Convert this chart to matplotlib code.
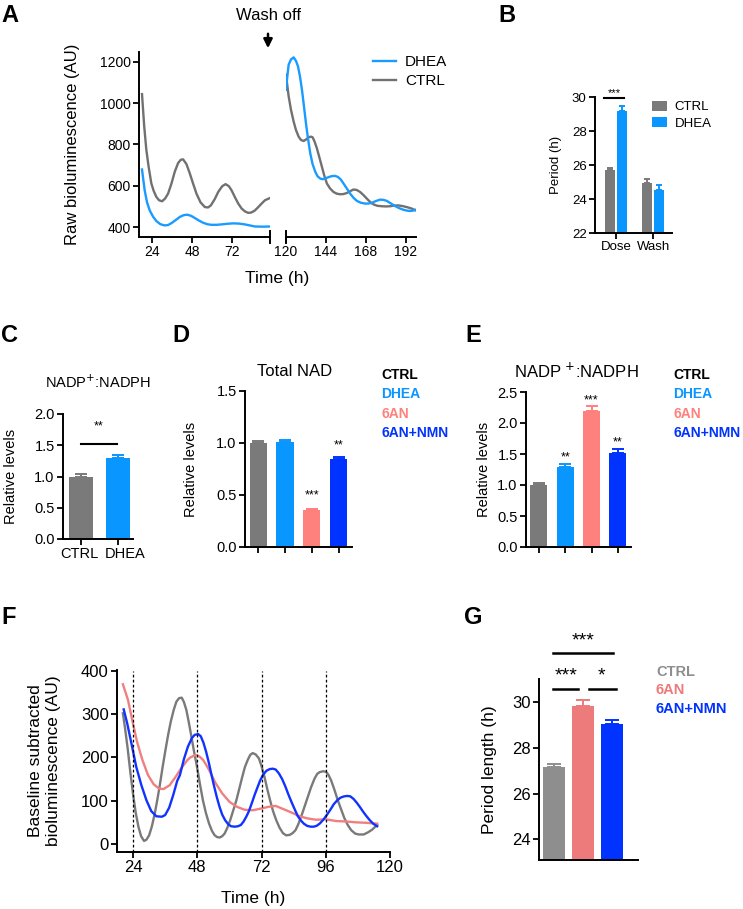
import matplotlib
matplotlib.use('Agg')
import matplotlib.pyplot as plt
import matplotlib.transforms as mtransforms
from matplotlib.patches import FancyArrowPatch
import numpy as np

plt.rcParams['font.family'] = ['Liberation Sans', 'DejaVu Sans']
plt.rcParams['axes.linewidth'] = 1.4
plt.rcParams['xtick.major.width'] = 1.3
plt.rcParams['ytick.major.width'] = 1.3
plt.rcParams['xtick.major.size'] = 4
plt.rcParams['ytick.major.size'] = 4

# ---------------- data ----------------
# Panel A (raw bioluminescence), dose phase
tA_dose_c = [18, 19.3, 20.6, 22, 23.6, 25, 26.6, 28.2, 30, 31.8, 33.6, 35.6, 37.6, 39.6, 41.2,
             42.6, 44.6, 46.6, 48.6, 50.6, 53, 55.6, 57.5, 59.2, 61.5, 63.6, 66, 68, 70, 71.6,
             73.6, 75.6, 77.6, 79.6, 81.5, 83.2, 85.5, 87.6, 89.6, 91.6, 94.6]
ctrlA_dose = [1044, 890, 773, 690, 611, 575, 546, 530, 525, 538, 562, 610, 668, 710, 726,
              728, 705, 660, 610, 562, 520, 497, 495, 505, 535, 570, 598, 608, 598, 578,
              545, 514, 490, 476, 469, 470, 480, 497, 514, 530, 541]
tA_dose_d = [18, 19.6, 21, 22.6, 24.5, 26.6, 29, 31.6, 33.6, 35.6, 38, 40.6, 43, 45.2, 47.5,
             49.6, 52, 54.6, 57, 59.6, 62.5, 65.6, 69, 72.6, 76, 79.6, 82.5, 85.6, 90, 94.6]
dheaA_dose = [679, 578, 520, 481, 452, 429, 414, 408, 410, 419, 433, 449, 458, 460, 454,
              444, 432, 421, 414, 411, 411, 413, 416, 418, 417, 413, 408, 403, 402, 403]
# Panel A, wash phase
tA_wash_d = [120, 120.8, 121.6, 123, 124.6, 126, 127.2, 128.4, 129.6, 130.8, 132, 133.3, 134.6,
             136, 137.6, 139, 140.6, 142, 143.6, 145.6, 147.6, 149.5, 151.2, 153, 154.6, 156.6,
             158.6, 160.6, 162.6, 165, 167.6, 169.5, 171.6, 174, 176.6, 178.6, 180.6, 183,
             185.6, 188, 190.6, 192.6, 194.6, 196.5, 198]
dheaA_wash = [1065, 1130, 1187, 1212, 1222, 1205, 1179, 1130, 1065, 985, 903, 825, 757,
              705, 668, 646, 635, 632, 635, 642, 647, 648, 643, 630, 611, 587,
              562, 542, 527, 518, 514, 514, 517, 526, 533, 532, 527, 515,
              502, 492, 484, 480, 478, 480, 484]
tA_wash_c = [120, 120.8, 121.6, 123, 124.6, 126, 127.6, 129, 130.6, 132, 133.6, 135, 136,
             137.3, 138.6, 140, 141.6, 143, 144.6, 146.5, 148.6, 150.5, 152.6, 154.6, 156.6,
             158.6, 160.6, 162.5, 164.6, 166.6, 168.6, 170.6, 172.6, 175, 177.6, 180, 182.6,
             185, 187.6, 190, 192.6, 195.5, 198]
ctrlA_wash = [1138, 1085, 1033, 968, 911, 870, 838, 822, 817, 824, 835, 838, 835,
              812, 781, 740, 692, 650, 611, 587, 570, 562, 559, 560, 565,
              574, 582, 580, 570, 555, 538, 522, 510, 503, 501, 500, 501,
              504, 505, 502, 497, 490, 481]

# Panel B (period)
B_groups = ['Dose', 'Wash']
B_ctrl = [25.7, 24.95]
B_ctrl_err = [0.12, 0.25]
B_dhea = [29.15, 24.55]
B_dhea_err = [0.3, 0.3]

# Panel C
C_labels = ['CTRL', 'DHEA']
C_vals = [1.0, 1.29]
C_err = [0.04, 0.05]

# Panels D, E
conds = ['CTRL', 'DHEA', '6AN', '6AN+NMN']
D_vals = [1.0, 1.01, 0.36, 0.845]
D_err = [0.02, 0.02, 0.01, 0.02]
D_stars = ['', '', '***', '**']
E_vals = [1.0, 1.29, 2.2, 1.52]
E_err = [0.04, 0.05, 0.08, 0.06]
E_stars = ['', '**', '***', '**']

# Panel F (baseline subtracted)
tF_ctrl = [20.2, 21, 22, 23, 24, 25, 26, 27, 28.1, 29, 30, 31, 32.1, 33, 34, 35, 36.1, 37.1,
           38.1, 39.2, 40.2, 41.2, 42.2, 43, 43.9, 44.8, 45.8, 46.8, 47.9, 49, 50.1, 51.2,
           52.4, 53.5, 54.5, 55.4, 56.4, 57.3, 58.2, 59.2, 60.3, 61.4, 62.6, 63.7, 64.8, 65.8,
           66.9, 67.8, 68.7, 69.8, 71, 72, 73.1, 74.1, 75.2, 76.3, 77.5, 78.7, 80, 81.2, 82.5,
           83.6, 84.7, 85.7, 86.8, 88, 89.3, 90.5, 91.8, 92.8, 93.7, 95, 96, 97, 98, 99.2,
           100.5, 101.8, 103, 104.2, 105.5, 107, 108.3, 110.2, 111.8, 113.3, 115.2]
F_ctrl = [302, 268, 220, 165, 115, 72, 40, 18, 7, 10, 20, 40, 70, 100, 136, 176, 217, 252,
          283, 310, 329, 337, 338, 328, 310, 282, 248, 213, 178, 138, 101, 72,
          47, 30, 20, 16, 15, 18, 24, 37, 55, 77, 101, 128, 155, 178,
          195, 206, 210, 207, 198, 180, 155, 128, 101, 76, 55, 38, 25, 20, 21,
          25, 32, 45, 63, 85, 109, 131, 151, 162, 166, 168, 167, 160, 147, 126,
          101, 79, 59, 44, 32, 24, 22, 22, 27, 33, 44]
tF_6an = [20.2, 22.1, 23.8, 25.5, 27.5, 29.6, 31.7, 33.7, 35.4, 37.7, 39.9, 42, 44.3, 45.4,
          46.4, 47.2, 48, 49, 50.2, 51.3, 52.4, 54.8, 57.3, 60.1, 62.8, 65.7, 68.8, 71.9,
          74.7, 77.3, 80, 83.1, 86.2, 89.3, 92.4, 96, 99.9, 103.6, 107.4, 111.1, 115.2]
F_6an = [369, 333, 283, 236, 194, 159, 138, 128, 127, 136, 155, 175, 194, 200,
         203, 205, 205, 201, 194, 183, 171, 141, 117, 97, 86, 79, 78, 82,
         86, 88, 81, 73, 64, 59, 56, 57, 53, 52, 50, 49, 47]
tF_nmn = [20.5, 21.8, 23.4, 25.2, 27.1, 29, 30.8, 32.7, 34.8, 36, 37.5, 39, 40.5, 41.5, 43,
          44.5, 46, 47, 48.3, 49.3, 50.3, 51.3, 52.3, 53.3, 54.3, 55.3, 56.3, 57.3, 58.4, 59.5,
          60.6, 62, 63.2, 64.3, 65.3, 66.3, 67.3, 68.4, 69.4, 70.5, 71.5, 72.6, 73.8, 75, 76.2,
          77.3, 78.5, 79.7, 80.9, 82, 83.2, 84.4, 85.5, 86.6, 87.8, 89, 90.3, 91.5, 92.6, 93.9,
          95.2, 96.5, 97.8, 99, 100.3, 101.5, 102.8, 104, 105.2, 106.4, 107.5, 108.7, 109.8,
          111, 112.3, 113.7, 115.2]
F_nmn = [311, 279, 232, 178, 136, 101, 76, 64, 63, 67, 84, 113, 146, 159, 196,
         225, 245, 252, 254, 249, 234, 213, 188, 160, 133, 108, 86, 68, 55, 46,
         41, 40, 41, 44, 52, 63, 76, 95, 113, 131, 147, 160, 169, 173, 174,
         172, 163, 150, 133, 115, 97, 80, 65, 55, 47, 42, 40, 40, 42, 48,
         57, 68, 80, 92, 101, 107, 110, 111, 110, 104, 96, 86, 76,
         66, 56, 47, 41]

# Panel G
G_labels = ['CTRL', '6AN', '6AN+NMN']
G_vals = [27.15, 29.8, 29.05]
G_err = [0.12, 0.3, 0.15]

# ---------------- colours ----------------
GRAY = '#7a7a7a'
LBLUE = '#0a96ff'
PINK = '#ff817d'
DBLUE = '#0033ff'
cond_colors = [GRAY, LBLUE, PINK, DBLUE]
G_colors = ['#8e8e8e', '#ee7b7b', '#0033ff']

W, H = 743, 909
fig = plt.figure(figsize=(W / 100, H / 100), dpi=100)


def add_ax(l, t, r, b):
    return fig.add_axes([l / W, 1 - b / H, (r - l) / W, (b - t) / H])


def ftext(x, y, s, **kw):
    fig.text(x / W, 1 - y / H, s, **kw)


def style(ax, fs):
    ax.spines['top'].set_visible(False)
    ax.spines['right'].set_visible(False)
    ax.tick_params(labelsize=fs, direction='out', pad=2)


def upper_err(ax, x, y, e, color, cap=3):
    ax.errorbar(x, y, yerr=[np.zeros(len(e)), e], fmt='none', ecolor=color,
                elinewidth=1.4, capsize=cap, capthick=1.4, clip_on=False)


# ---------------- Panel A ----------------
axL = add_ax(139, 52, 270, 237)
axR = add_ax(286, 52, 416, 237)
lc, = axL.plot(tA_dose_c, ctrlA_dose, color='#717171', lw=1.7, label='CTRL')
ld, = axL.plot(tA_dose_d, dheaA_dose, color='#1a9bff', lw=1.7, label='DHEA')
axR.plot(tA_wash_c, ctrlA_wash, color='#717171', lw=1.7)
axR.plot(tA_wash_d, dheaA_wash, color='#1a9bff', lw=1.7)
for ax in (axL, axR):
    style(ax, 10)
    ax.set_ylim(352, 1248)
axL.set_xlim(16.2, 94.6)
axR.set_xlim(120, 198.2)
axL.set_yticks([400, 600, 800, 1000, 1200])
axL.set_xticks([24, 48, 72])
axR.set_xticks([120, 144, 168, 192])
axR.spines['left'].set_visible(False)
axR.set_yticks([])
axL.plot([94.6, 94.6], [-0.035, 0.035], color='black', lw=1.4,
         transform=axL.get_xaxis_transform(), clip_on=False)
axR.plot([120, 120], [-0.035, 0.035], color='black', lw=1.4,
         transform=axR.get_xaxis_transform(), clip_on=False)
axL.set_ylabel('Raw bioluminescence (AU)', fontsize=12)
axL.yaxis.set_label_coords(-0.45, 0.5)
ftext(277, 278, 'Time (h)', fontsize=12.5, ha='center', va='center')
ftext(268, 16, 'Wash off', fontsize=12, ha='center', va='center')
fig.add_artist(FancyArrowPatch((268 / W, 1 - 31 / H), (268 / W, 1 - 51 / H),
               transform=fig.transFigure, arrowstyle='-|>', mutation_scale=13,
               color='black', lw=1.8))
fig.legend(handles=[ld, lc], loc='upper left', bbox_to_anchor=(373 / W, 1 - 55 / H),
           frameon=False, fontsize=11, handlelength=1.5, handletextpad=0.6,
           labelspacing=0.35, borderpad=0, borderaxespad=0)

# ---------------- Panel B ----------------
axB = add_ax(595, 97, 672, 233)
style(axB, 9.5)
xb = np.arange(len(B_groups))
off, bw = 0.165, 0.27
axB.bar(xb - off, B_ctrl, bw, color=GRAY, label='CTRL')
axB.bar(xb + off, B_dhea, bw, color=LBLUE, label='DHEA')
upper_err(axB, xb - off, B_ctrl, B_ctrl_err, GRAY, cap=2.5)
upper_err(axB, xb + off, B_dhea, B_dhea_err, LBLUE, cap=2.5)
axB.set_ylim(22, 30)
axB.set_xlim(-0.57, 1.51)
axB.set_yticks([22, 24, 26, 28, 30])
axB.set_xticks(xb)
axB.set_xticklabels(B_groups)
axB.set_ylabel('Period (h)', fontsize=9.5)
axB.yaxis.set_label_coords(-0.43, 0.5)
axB.plot([-0.33, 0.22], [29.93, 29.93], color='black', lw=1.5, clip_on=False)
axB.text(-0.06, 30.25, '***', fontsize=8, ha='center', va='center')
axB.legend(loc='upper left', bbox_to_anchor=(652 / W, 1 - 101 / H), bbox_transform=fig.transFigure,
           frameon=False, fontsize=9.5, handlelength=1.1, handleheight=0.75,
           handletextpad=0.6, labelspacing=0.3, borderpad=0, borderaxespad=0)

# ---------------- Panel C ----------------
axC = add_ax(63, 414, 133, 539)
style(axC, 10.5)
xc = np.arange(len(C_labels))
axC.bar(xc, C_vals, 0.65, color=[GRAY, LBLUE])
for i in range(len(xc)):
    upper_err(axC, [xc[i]], [C_vals[i]], [C_err[i]], [GRAY, LBLUE][i], cap=4)
axC.set_ylim(0, 2.0)
axC.set_xlim(-0.49, 1.4)
axC.set_yticks([0, 0.5, 1.0, 1.5, 2.0])
axC.set_yticklabels(['0.0', '0.5', '1.0', '1.5', '2.0'])
axC.set_xticks(xc)
axC.set_xticklabels(C_labels)
for lab, dx in zip(axC.get_xticklabels(), (-2, 7)):
    lab.set_transform(lab.get_transform() +
                      mtransforms.ScaledTranslation(dx / 100, 0, fig.dpi_scale_trans))
axC.set_ylabel('Relative levels', fontsize=10.5)
axC.yaxis.set_label_coords(-0.64, 0.5)
axC.set_title('NADP$^{+}$:NADPH', fontsize=10.5, pad=19)
axC.plot([0, 0.97], [1.52, 1.52], color='black', lw=1.5, clip_on=False)
axC.text(0.48, 1.80, '**', fontsize=9, ha='center', va='center')


# ---------------- Panels D, E ----------------
def nad_panel(ax, vals, errs, stars, ylim, yt, star_y):
    style(ax, 10.5)
    x = np.arange(len(vals))
    ax.bar(x, vals, 0.64, color=cond_colors)
    for i in range(len(x)):
        upper_err(ax, [x[i]], [vals[i]], [errs[i]], cond_colors[i], cap=4)
        if stars[i]:
            ax.text(x[i], star_y[i], stars[i], fontsize=9, ha='center', va='center')
    ax.set_ylim(*ylim)
    ax.set_xlim(-0.49, 3.5)
    ax.set_yticks(yt)
    ax.set_yticklabels(['%.1f' % v for v in yt])
    ax.set_xticks(x)
    ax.set_xticklabels([])
    ax.set_ylabel('Relative levels', fontsize=10.5)


axD = add_ax(245, 391, 352, 547)
nad_panel(axD, D_vals, D_err, D_stars, (0, 1.5), [0, 0.5, 1.0, 1.5], [0, 0, 0.50, 0.98])
axD.yaxis.set_label_coords(-0.44, 0.5)
ftext(295, 371, 'Total NAD', fontsize=12, ha='center', va='center')

axE = add_ax(526, 392, 631, 547)
nad_panel(axE, E_vals, E_err, E_stars, (0, 2.5), [0, 0.5, 1.0, 1.5, 2.0, 2.5],
          [0, 1.44, 2.37, 1.68])
axE.yaxis.set_label_coords(-0.33, 0.5)
ftext(576, 371, 'NADP $^{+}$:NADPH', fontsize=12, ha='center', va='center')

for lx in (381, 673):
    for i, (lab, col) in enumerate(zip(conds, ['black', LBLUE, PINK, DBLUE])):
        ftext(lx, 375 + 19.3 * i, lab, fontsize=10, fontweight='bold', color=col,
              ha='left', va='center')

# ---------------- Panel F ----------------
axF = add_ax(117, 670, 390, 852)
style(axF, 12)
axF.plot(tF_ctrl, F_ctrl, color='#7a7a7a', lw=1.7)
axF.plot(tF_6an, F_6an, color='#f08080', lw=1.7)
axF.plot(tF_nmn, F_nmn, color='#1033ff', lw=1.7)
for xv in (24, 48, 72, 96):
    axF.axvline(xv, color='black', lw=0.9, ls=(0, (2.2, 1.8)), ymin=0,
                ymax=(400 + 18.5) / (402 + 18.5))
axF.set_xlim(18, 120)
axF.set_ylim(-18.5, 402)
axF.set_xticks([24, 48, 72, 96, 120])
axF.set_yticks([0, 100, 200, 300, 400])
axF.set_ylabel('Baseline subtracted\nbioluminescence (AU)', fontsize=12.5, linespacing=1.25)
axF.yaxis.set_label_coords(-0.205, 0.5)
axF.set_xlabel('Time (h)', fontsize=12.5, labelpad=11)

# ---------------- Panel G ----------------
axG = add_ax(539, 679, 638, 860)
style(axG, 12)
xg = np.arange(len(G_labels))
axG.bar(xg, G_vals, 0.76, color=G_colors)
for i in range(len(xg)):
    upper_err(axG, [xg[i]], [G_vals[i]], [G_err[i]], G_colors[i], cap=5)
axG.set_ylim(23.1, 31)
axG.set_xlim(-0.52, 2.9)
axG.set_yticks([24, 26, 28, 30])
axG.set_xticks([])
axG.set_ylabel('Period length (h)', fontsize=12.5)
axG.yaxis.set_label_coords(-0.42, 0.5)
axG.plot([-0.05, 0.83], [30.57, 30.57], color='black', lw=1.8, clip_on=False)
axG.plot([1.2, 2.13], [30.57, 30.57], color='black', lw=1.8, clip_on=False)
axG.plot([-0.05, 2.02], [32.15, 32.15], color='black', lw=1.8, clip_on=False)
axG.text(0.4, 31.15, '***', fontsize=14, ha='center', va='center')
axG.text(1.65, 31.15, '*', fontsize=14, ha='center', va='center')
axG.text(1.0, 32.65, '***', fontsize=14, ha='center', va='center')
for i, (lab, col) in enumerate(zip(G_labels, G_colors)):
    ftext(656, 672 + 18.5 * i, lab, fontsize=10.5, fontweight='bold', color=col,
          ha='left', va='center')

# ---------------- panel letters ----------------
for s, x, y in [('A', 1, 15), ('B', 498, 15), ('C', 1, 335), ('D', 172, 335),
                ('E', 465, 336), ('F', 1, 618), ('G', 464, 618)]:
    ftext(x, y, s, fontsize=17, fontweight='bold', ha='left', va='center')

fig.savefig('out.png', dpi=100)
